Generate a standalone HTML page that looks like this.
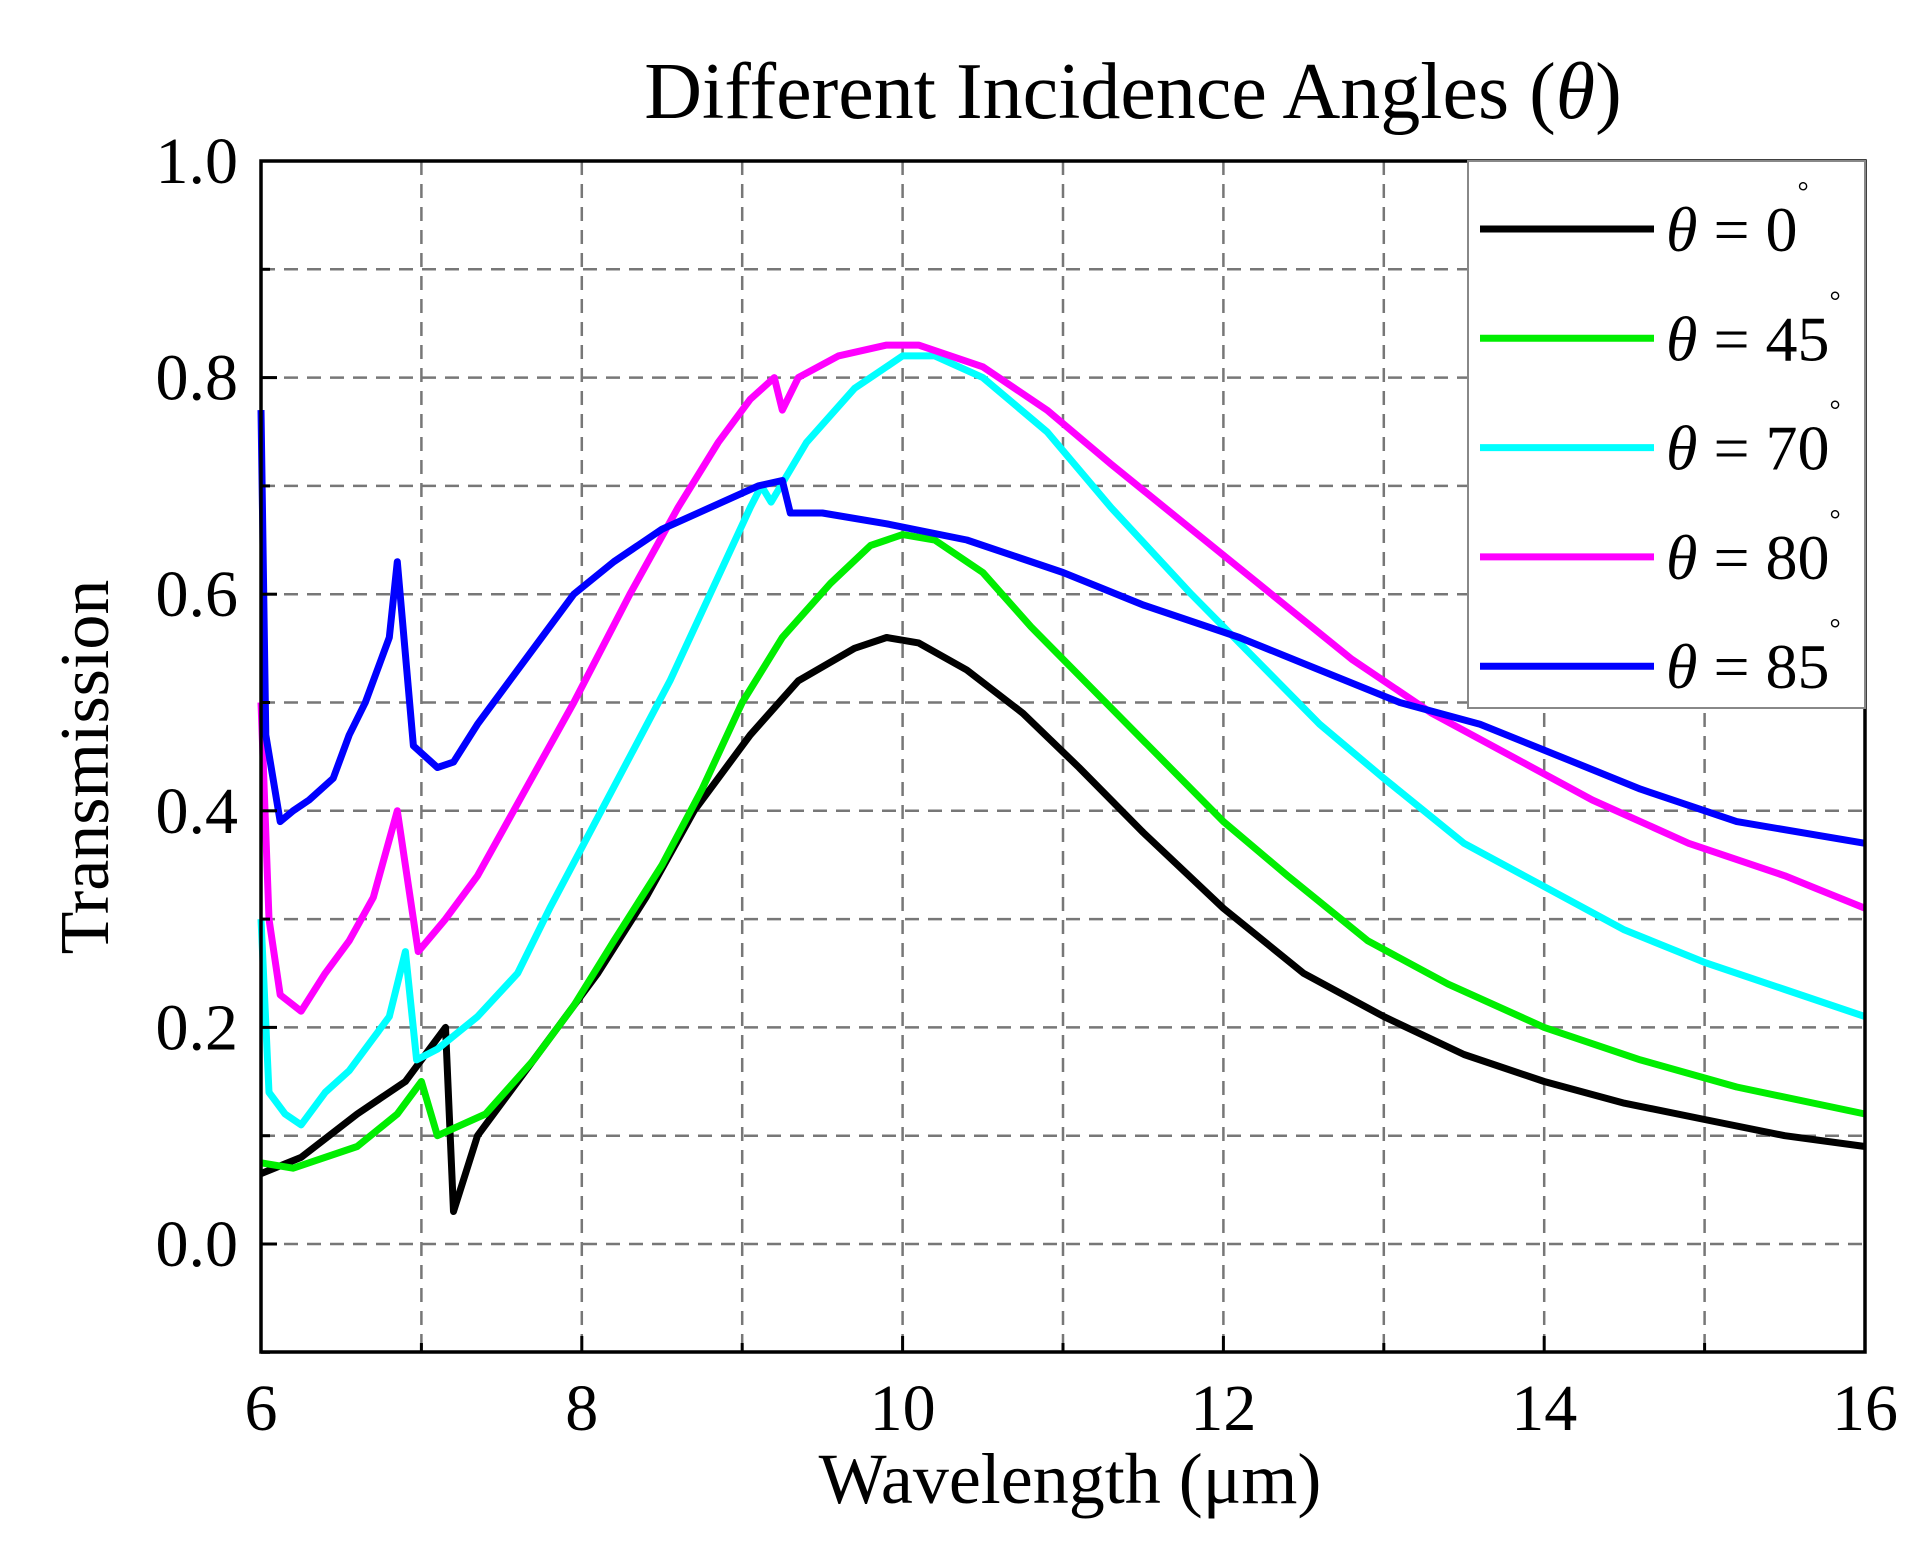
<!DOCTYPE html>
<html><head><meta charset="utf-8"><style>
html,body{margin:0;padding:0;background:#fff;}
svg{display:block;font-family:"Liberation Serif",serif;}
</style></head><body>
<svg id="chart" width="1931" height="1554" viewBox="0 0 1931 1554">
<text x="1133" y="118" font-size="80" text-anchor="middle">Different Incidence Angles (<tspan font-style="italic">θ</tspan>)</text>
<g id="grid"></g>
<g id="series"></g>
<g id="axes"></g>
<text x="1070" y="1503" font-size="72" text-anchor="middle">Wavelength (μm)</text>
<text transform="translate(108,767) rotate(-90)" font-size="70" text-anchor="middle">Transmission</text>
<g id="legend"></g>
</svg>
<script>
const xTicks=[6,8,10,12,14,16];
const yTicks=["0.0","0.2","0.4","0.6","0.8","1.0"];
const seriesNames=["θ = 0","θ = 45","θ = 70","θ = 80","θ = 85"];
const seriesColors=["#000000","#00ee00","#00ffff","#ff00ff","#0000ff"];
const x0=[6,6.25,6.6,6.9,7.05,7.15,7.2,7.35,7.6,7.85,8.1,8.4,8.7,9.05,9.35,9.7,9.9,10.1,10.4,10.75,11.1,11.5,12,12.5,13,13.5,14,14.5,15,15.5,16];
const y0=[0.065,0.08,0.12,0.15,0.18,0.2,0.03,0.1,0.15,0.2,0.25,0.32,0.4,0.47,0.52,0.55,0.56,0.555,0.53,0.49,0.44,0.38,0.31,0.25,0.21,0.175,0.15,0.13,0.115,0.1,0.09];
const x45=[6,6.2,6.6,6.85,7.0,7.1,7.4,7.7,7.95,8.2,8.5,8.75,9.0,9.25,9.55,9.8,10,10.2,10.5,10.8,11.2,11.6,12,12.4,12.9,13.4,14,14.6,15.2,16];
const y45=[0.075,0.07,0.09,0.12,0.15,0.1,0.12,0.17,0.22,0.28,0.35,0.42,0.5,0.56,0.61,0.645,0.655,0.65,0.62,0.57,0.51,0.45,0.39,0.34,0.28,0.24,0.2,0.17,0.145,0.12];
const x70=[6,6.05,6.15,6.25,6.4,6.55,6.7,6.8,6.9,6.97,7.1,7.35,7.6,7.8,8.05,8.3,8.55,8.8,9.05,9.12,9.18,9.4,9.7,10,10.2,10.5,10.9,11.3,11.8,12.2,12.6,13,13.5,14,14.5,15,15.5,16];
const y70=[0.3,0.14,0.12,0.11,0.14,0.16,0.19,0.21,0.27,0.17,0.18,0.21,0.25,0.31,0.38,0.45,0.52,0.6,0.68,0.7,0.685,0.74,0.79,0.82,0.82,0.8,0.75,0.68,0.6,0.54,0.48,0.43,0.37,0.33,0.29,0.26,0.235,0.21];
const x80=[6,6.05,6.12,6.25,6.4,6.55,6.7,6.85,6.98,7.15,7.35,7.65,7.95,8.3,8.6,8.85,9.05,9.2,9.25,9.35,9.6,9.9,10.1,10.5,10.9,11.3,11.8,12.3,12.8,13.3,13.8,14.3,14.9,15.5,16];
const y80=[0.5,0.3,0.23,0.215,0.25,0.28,0.32,0.4,0.27,0.3,0.34,0.42,0.5,0.6,0.68,0.74,0.78,0.8,0.77,0.8,0.82,0.83,0.83,0.81,0.77,0.72,0.66,0.6,0.54,0.49,0.45,0.41,0.37,0.34,0.31];
const x85=[6,6.03,6.12,6.2,6.3,6.45,6.55,6.65,6.75,6.8,6.85,6.95,7.1,7.2,7.35,7.55,7.75,7.95,8.2,8.5,8.8,9.1,9.25,9.3,9.5,9.9,10.4,11,11.5,12.1,12.6,13.1,13.6,14.1,14.6,15.2,16];
const y85=[0.77,0.47,0.39,0.4,0.41,0.43,0.47,0.5,0.54,0.56,0.63,0.46,0.44,0.445,0.48,0.52,0.56,0.6,0.63,0.66,0.68,0.7,0.705,0.675,0.675,0.665,0.65,0.62,0.59,0.56,0.53,0.5,0.48,0.45,0.42,0.39,0.37];
const seriesX=[x0,x45,x70,x80,x85];
const seriesY=[y0,y45,y70,y80,y85];

const L=261,R=1865,T=161,B=1352;
const X=v=>L+(v-6)*(R-L)/10;
const Y=v=>1244-v*1083;
const NS="http://www.w3.org/2000/svg";
function mk(tag,attrs,parent){const e=document.createElementNS(NS,tag);for(const k in attrs)e.setAttribute(k,attrs[k]);parent.appendChild(e);return e;}
const grid=document.getElementById('grid'),axes=document.getElementById('axes'),ser=document.getElementById('series'),leg=document.getElementById('legend');
for(let i=0;i<=9;i++){
  const yy=Y(i/10);
  const g=mk('line',{x1:L,x2:R,y1:yy,y2:yy,stroke:'#777','stroke-width':2.5,'stroke-dasharray':'14,9'},grid);
  
  
}
for(let v=7;v<16;v++){
  const g=mk('line',{x1:X(v),x2:X(v),y1:T,y2:B,stroke:'#777','stroke-width':2.5,'stroke-dasharray':'14,9'},grid);
  
  
}
for(let s=0;s<5;s++){
  const d=seriesX[s].map((v,i)=>(i?'L':'M')+X(v).toFixed(1)+' '+Y(seriesY[s][i]).toFixed(1)).join(' ');
  const p=mk('path',{d:d,fill:'none',stroke:seriesColors[s],'stroke-width':7,'stroke-linejoin':'round'},ser);
  
  
}
const frame=mk('rect',{x:L,y:T,width:R-L,height:B-T,fill:'none',stroke:'#000','stroke-width':3.5},axes);


for(let v=6;v<=16;v++){
  const len=(v%2===0)?16:9;
  const t=mk('line',{x1:X(v),x2:X(v),y1:B,y2:B-len,stroke:'#000','stroke-width':3},axes);
  
  
}
for(let i=-1;i<=10;i++){
  const len=(i%2===0)?16:9;
  const t=mk('line',{x1:L,x2:L+len,y1:Y(i/10),y2:Y(i/10),stroke:'#000','stroke-width':3},axes);
  
  
}
xTicks.forEach(v=>{
  const t=mk('text',{x:X(v),y:1430,'font-size':66,'text-anchor':'middle'},axes);
  t.textContent=v;
  
  
});
yTicks.forEach(v=>{
  const t=mk('text',{x:238,y:Y(parseFloat(v))+22,'font-size':66,'text-anchor':'end'},axes);
  t.textContent=v;
  
  
});
const lb=mk('rect',{x:1468,y:T,width:397,height:547,fill:'#fff',stroke:'#888','stroke-width':2},leg);


seriesNames.forEach((n,i)=>{
  const yy=229+i*109.3;
  const l=mk('line',{x1:1480,x2:1654,y1:yy,y2:yy,stroke:seriesColors[i],'stroke-width':7},leg);
  
  
  const t=mk('text',{x:1666,y:yy+22,'font-size':64},leg);
  
  
  const parts=n.split(' = ');
  const a=mk('tspan',{'font-style':'italic'},t);a.textContent=parts[0];
  const b=mk('tspan',{},t);b.textContent=' = '+parts[1];
  const c=mk('tspan',{'font-size':28,dy:-50},t);c.textContent='°';
});
</script>
</body></html>
